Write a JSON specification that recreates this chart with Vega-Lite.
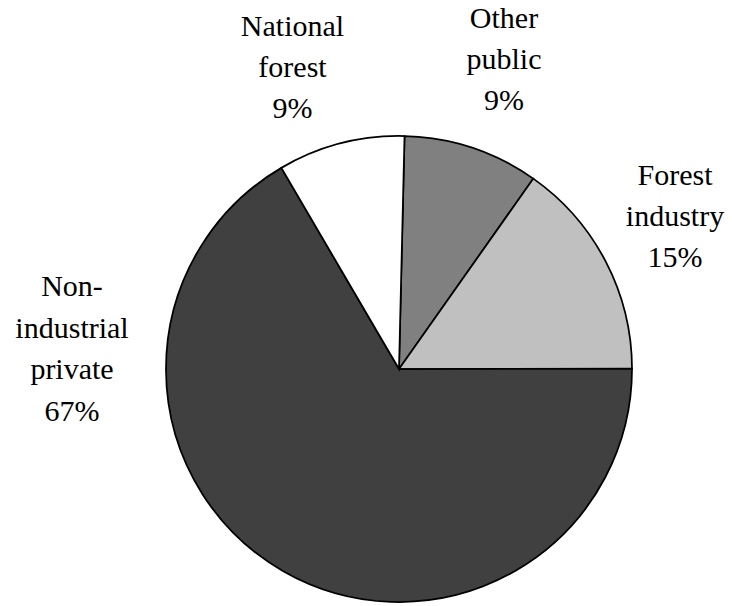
{
  "$schema": "https://vega.github.io/schema/vega-lite/v6.json",
  "width": 666,
  "height": 474,
  "autosize": {"type": "none"},
  "padding": {"left": 66, "top": 132, "right": 0, "bottom": 0},
  "background": "white",
  "config": {"view": {"stroke": null}, "font": "Liberation Serif"},
  "data": {
    "values": [
      {"owner": "Other public", "label": "Other\npublic", "share": 0.094},
      {"owner": "Forest industry", "label": "Forest\nindustry", "share": 0.152},
      {"owner": "Non-industrial private", "label": "Non-\nindustrial\nprivate", "share": 0.666},
      {"owner": "National forest", "label": "National\nforest", "share": 0.088}
    ]
  },
  "transform": [
    {"window": [{"op": "row_number", "as": "slot"}]},
    {"calculate": "datum.label + '\\n' + format(datum.share, '.0%')", "as": "caption"}
  ],
  "layer": [
    {
      "mark": {"type": "arc", "outerRadius": 233, "stroke": "black", "strokeWidth": 1.75},
      "encoding": {
        "theta": {"field": "share", "type": "quantitative", "stack": true, "scale": {"range": [0.0237, 6.3069]}},
        "order": {"field": "slot", "type": "quantitative", "sort": "ascending"},
        "color": {
          "field": "owner",
          "type": "nominal",
          "scale": {
            "domain": ["Other public", "Forest industry", "Non-industrial private", "National forest"],
            "range": ["#808080", "#c0c0c0", "#404040", "#ffffff"]
          },
          "legend": null
        }
      }
    },
    {
      "transform": [{"filter": "datum.owner === 'National forest'"}],
      "mark": {"type": "text", "font": "Liberation Serif", "fontSize": 30, "color": "black", "theta": -0.3019, "radius": 358.2, "lineHeight": 41, "lineBreak": "\n", "align": "center", "baseline": "middle"},
      "encoding": {"text": {"field": "caption"}}
    },
    {
      "transform": [{"filter": "datum.owner === 'Other public'"}],
      "mark": {"type": "text", "font": "Liberation Serif", "fontSize": 30, "color": "black", "theta": 0.2915, "radius": 365.4, "lineHeight": 41, "lineBreak": "\n", "align": "center", "baseline": "middle"},
      "encoding": {"text": {"field": "caption"}}
    },
    {
      "transform": [{"filter": "datum.owner === 'Forest industry'"}],
      "mark": {"type": "text", "font": "Liberation Serif", "fontSize": 30, "color": "black", "theta": 0.9606, "radius": 336.8, "lineHeight": 41, "lineBreak": "\n", "align": "center", "baseline": "middle"},
      "encoding": {"text": {"field": "caption"}}
    },
    {
      "transform": [{"filter": "datum.owner === 'Non-industrial private'"}],
      "mark": {"type": "text", "font": "Liberation Serif", "fontSize": 30, "color": "black", "theta": -1.3251, "radius": 337.1, "lineHeight": 41.5, "lineBreak": "\n", "align": "center", "baseline": "middle"},
      "encoding": {"text": {"field": "caption"}}
    }
  ]
}
